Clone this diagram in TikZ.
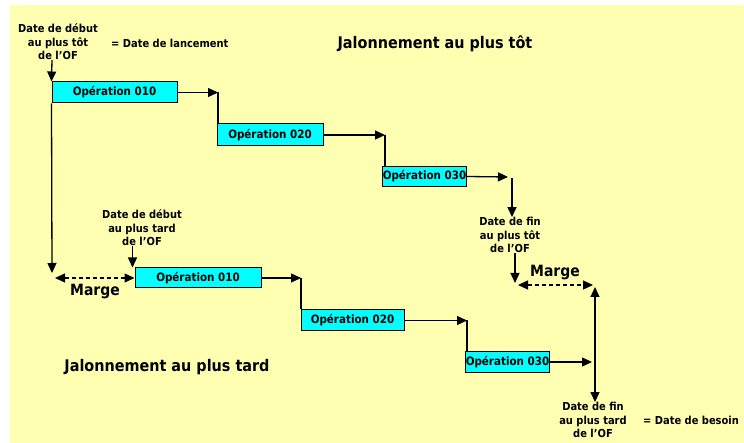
\documentclass[tikz,border=0pt]{standalone}
\usepackage{fontspec}
\setmainfont{DejaVu Sans Condensed}
\usetikzlibrary{arrows.meta}
\definecolor{bgyellow}{RGB}{255,255,178}
\definecolor{opcyan}{RGB}{0,255,255}
\begin{document}
\begin{tikzpicture}[x=1pt,y=-1pt,
  lbl/.style={align=center,inner sep=0pt,font=\bfseries\fontsize{11}{13.5}\selectfont},
  big/.style={inner sep=0pt,font=\bfseries\fontsize{16}{18}\selectfont},
  opbox/.style={draw=black,fill=opcyan,line width=1pt,inner sep=0pt,font=\bfseries\fontsize{11.5}{13}\selectfont},
  conn/.style={line width=1.3pt},
  arr/.style={conn,-{Triangle[length=10pt,width=9pt]}},
  darr/.style={conn,dash pattern=on 4pt off 3pt,{Triangle[length=10pt,width=9pt]}-{Triangle[length=10pt,width=9pt]}},
  barr/.style={conn,{Triangle[length=10pt,width=9pt]}-{Triangle[length=10pt,width=9pt]}}]
\useasboundingbox (0,0) rectangle (744,443);
\fill[white] (0,0) rectangle (744,443);
\fill[bgyellow] (10,5) rectangle (744,443);

% boxes
\node[opbox,minimum width=125pt,minimum height=21pt] (b1) at (114.5,92.5) {Opération 010};
\node[opbox,minimum width=106pt,minimum height=22pt] (b2) at (270,135) {Opération 020};
\node[opbox,minimum width=83pt,minimum height=20pt] (b3) at (424.5,176.5) {Opération 030};
\node[opbox,minimum width=126pt,minimum height=20pt] (b4) at (198,278) {Opération 010};
\node[opbox,minimum width=103pt,minimum height=21pt] (b5) at (352.5,320.5) {Opération 020};
\node[opbox,minimum width=83pt,minimum height=21pt] (b6) at (507.5,362) {Opération 030};

% labels
\node[lbl] (t1) at (58,42) {Date de début\\au plus tôt\\de l'OF};
\node[lbl,anchor=west] (eq1) at (111,43) {= Date de lancement};
\node[big] (title1) at (435,44) {Jalonnement au plus tôt};
\node[lbl] (t2) at (510,235) {Date de fin\\au plus tôt\\de l'OF};
\node[big,font=\bfseries\fontsize{15.5}{17}\selectfont] (marge2) at (555,273) {Marge};
\node[lbl] (t3) at (142,228) {Date de début\\au plus tard\\de l'OF};
\node[big,font=\bfseries\fontsize{15.5}{17}\selectfont] (marge1) at (95,292) {Marge};
\node[big] (title2) at (167,367) {Jalonnement au plus tard};
\node[lbl] (t4) at (593,420) {Date de fin\\au plus tard\\de l'OF};
\node[lbl,anchor=west] (eq2) at (643,420) {= Date de besoin};

% coordinates
\coordinate (k1) at (218,92.5);
\coordinate (k2) at (385,135);
\coordinate (k3) at (508,177);
\coordinate (f1) at (512,178);
\coordinate (m1) at (52,273);
\coordinate (d1) at (55,278);
\coordinate (m2) at (515,283);
\coordinate (d2a) at (518,285);
\coordinate (d2b) at (593,285);
\coordinate (k4) at (301,278);
\coordinate (k5) at (467,320.5);
\coordinate (k6) at (592,362);
\coordinate (r1) at (595,287);

% connectors - early schedule
\draw[arr] (52,60) -- (b1.north west);
\draw[arr] (b1.east) -- (k1);
\draw[conn] (k1) -- (k1 |- b2.north);
\draw[arr] (b2.east) -- (k2);
\draw[conn] (k2) -- (k2 |- b3.north);
\draw[arr] (b3.east) -- (k3);
\draw[arr] (f1) -- (f1 |- t2.north);
\draw[arr] (m2 |- t2.south) -- (m2);
\draw[darr] (d2a) -- (d2b);

% connectors - late schedule
\draw[arr] (b1.south west) -- (m1);
\draw[darr] (d1) -- (b4.west);
\draw[arr] ([xshift=-2pt]b4.north west |- t3.south) -- ([xshift=-2pt]b4.north west);
\draw[arr] (b4.east) -- (k4);
\draw[conn] (k4) -- (k4 |- b5.north);
\draw[arr] (b5.east) -- (k5);
\draw[conn] (k5) -- (k5 |- b6.north);
\draw[arr] (b6.east) -- (k6);
\draw[barr] (r1) -- (r1 |- t4.north);
\end{tikzpicture}
\end{document}
